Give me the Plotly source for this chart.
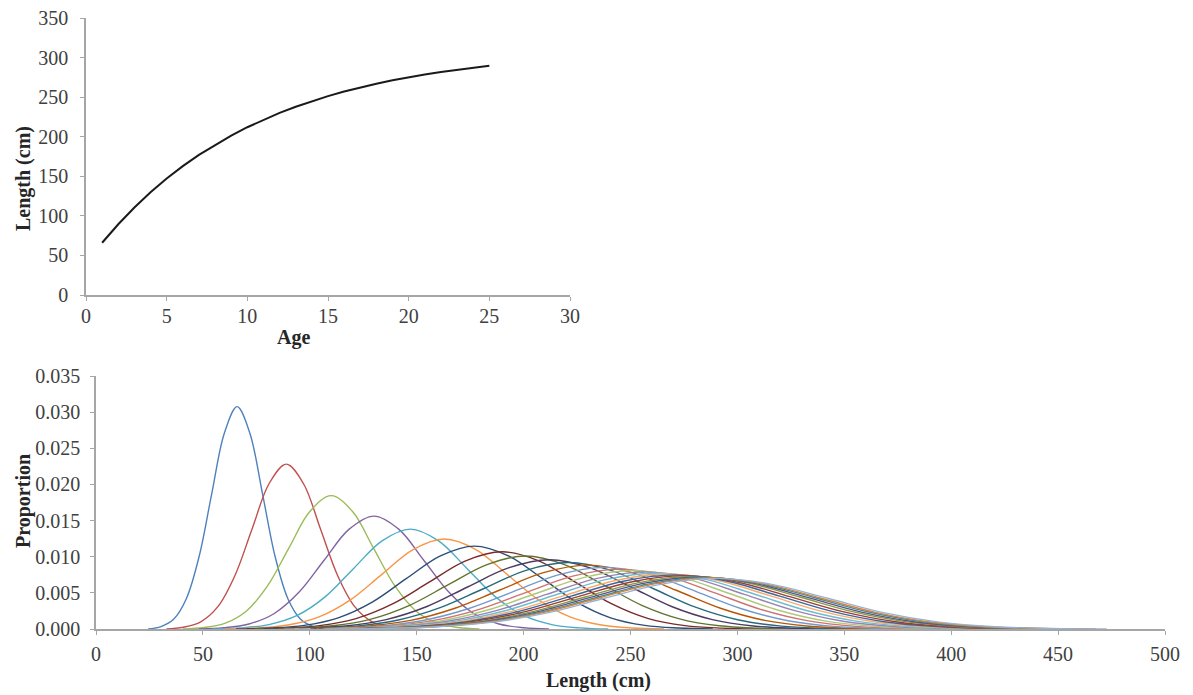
import plotly.graph_objects as go

W, H = 1193, 695

# ---- top panel: length at age ----
ages = [1, 2, 3, 4, 5, 6, 7, 8, 9, 10, 11, 12, 13, 14, 15, 16, 17, 18, 19, 20, 21, 22, 23, 24, 25]
length_at_age = [66.0, 89.4, 110.6, 129.7, 147.1, 162.8, 177.0, 189.8, 201.5, 212.0,
                 221.5, 230.1, 237.9, 244.9, 251.3, 257.1, 262.3, 267.0, 271.3, 275.2,
                 278.7, 281.9, 284.7, 287.3, 289.7]

top_xticks = [0, 5, 10, 15, 20, 25, 30]
top_yticks = [0, 50, 100, 150, 200, 250, 300, 350]

# ---- bottom panel: length distribution for each age ----
dist_lengths = [
    [24.4, 30.4, 36.3, 42.2, 48.2, 54.1, 60.1, 66.0, 71.9, 77.9, 83.8, 89.8, 95.7, 101.6, 107.6],
    [32.9, 40.9, 49.0, 57.0, 65.0, 73.0, 81.0, 89.0, 97.0, 105.0, 113.0, 121.0, 129.1, 137.1, 145.1],
    [40.7, 50.6, 60.5, 70.4, 80.3, 90.2, 100.1, 110.0, 119.9, 129.8, 139.7, 149.6, 159.5, 169.4, 179.3],
    [48.1, 59.8, 71.5, 83.2, 94.9, 106.6, 118.3, 130.0, 141.7, 153.4, 165.1, 176.8, 188.5, 200.2, 211.9],
    [54.4, 67.6, 80.9, 94.1, 107.3, 120.5, 133.8, 147.0, 160.2, 173.5, 186.7, 199.9, 213.2, 226.4, 239.6],
    [60.3, 75.0, 89.7, 104.3, 119.0, 133.7, 148.3, 163.0, 177.7, 192.3, 207.0, 221.7, 236.4, 251.0, 265.7],
    [65.5, 81.4, 97.4, 113.3, 129.2, 145.1, 161.1, 177.0, 192.9, 208.9, 224.8, 240.7, 256.7, 272.6, 288.5],
    [70.3, 87.4, 104.5, 121.6, 138.7, 155.8, 172.9, 190.0, 207.1, 224.2, 241.3, 258.4, 275.5, 292.6, 309.7],
    [74.4, 92.5, 110.6, 128.6, 146.7, 164.8, 182.9, 201.0, 219.1, 237.2, 255.3, 273.4, 291.5, 309.5, 327.6],
    [78.4, 97.5, 116.6, 135.7, 154.8, 173.8, 192.9, 212.0, 231.1, 250.2, 269.2, 288.3, 307.4, 326.5, 345.6],
    [81.8, 101.7, 121.6, 141.4, 161.3, 181.2, 201.1, 221.0, 240.9, 260.8, 280.7, 300.6, 320.5, 340.3, 360.2],
    [85.1, 105.8, 126.5, 147.2, 167.9, 188.6, 209.3, 230.0, 250.7, 271.4, 292.1, 312.8, 333.5, 354.2, 374.9],
    [88.1, 109.5, 130.9, 152.3, 173.7, 195.2, 216.6, 238.0, 259.4, 280.8, 302.3, 323.7, 345.1, 366.5, 387.9],
    [90.7, 112.7, 134.8, 156.8, 178.9, 200.9, 223.0, 245.0, 267.1, 289.1, 311.2, 333.2, 355.3, 377.3, 399.4],
    [92.9, 115.5, 138.1, 160.6, 183.2, 205.8, 228.4, 251.0, 273.6, 296.2, 318.8, 341.4, 364.0, 386.5, 409.1],
    [95.1, 118.2, 141.4, 164.5, 187.6, 210.7, 233.9, 257.0, 280.1, 303.3, 326.4, 349.5, 372.7, 395.8, 418.9],
    [96.9, 120.5, 144.1, 167.7, 191.3, 214.8, 238.4, 262.0, 285.6, 309.2, 332.7, 356.3, 379.9, 403.5, 427.1],
    [98.8, 122.8, 146.9, 170.9, 194.9, 218.9, 243.0, 267.0, 291.0, 315.1, 339.1, 363.1, 387.2, 411.2, 435.2],
    [100.3, 124.7, 149.1, 173.4, 197.8, 222.2, 246.6, 271.0, 295.4, 319.8, 344.2, 368.6, 393.0, 417.3, 441.7],
    [101.8, 126.5, 151.3, 176.0, 200.8, 225.5, 250.3, 275.0, 299.8, 324.5, 349.3, 374.0, 398.8, 423.5, 448.3],
    [103.2, 128.3, 153.5, 178.6, 203.7, 228.8, 253.9, 279.0, 304.1, 329.2, 354.3, 379.4, 404.6, 429.7, 454.8],
    [104.3, 129.7, 155.1, 180.5, 205.9, 231.2, 256.6, 282.0, 307.4, 332.8, 358.1, 383.5, 408.9, 434.3, 459.7],
    [105.5, 131.1, 156.8, 182.4, 208.1, 233.7, 259.4, 285.0, 310.7, 336.3, 362.0, 387.6, 413.3, 438.9, 464.6],
    [106.2, 132.0, 157.9, 183.7, 209.5, 235.3, 261.2, 287.0, 312.8, 338.7, 364.5, 390.3, 416.2, 442.0, 467.8],
    [107.3, 133.4, 159.5, 185.6, 211.7, 237.8, 263.9, 290.0, 316.1, 342.2, 368.3, 394.4, 420.5, 446.6, 472.7],
]
dist_props = [
    [0, 0.00034, 0.00135, 0.00416, 0.00999, 0.01866, 0.02715, 0.03076, 0.02715, 0.01866, 0.00999, 0.00416, 0.00135, 0.00034, 0],
    [0, 0.00025, 0.00100, 0.00309, 0.00741, 0.01383, 0.02013, 0.02281, 0.02013, 0.01383, 0.00741, 0.00309, 0.00100, 0.00025, 0],
    [0, 0.00020, 0.00081, 0.00250, 0.00599, 0.01119, 0.01628, 0.01845, 0.01628, 0.01119, 0.00599, 0.00250, 0.00081, 0.00020, 0],
    [0, 0.00017, 0.00069, 0.00211, 0.00507, 0.00947, 0.01378, 0.01562, 0.01378, 0.00947, 0.00507, 0.00211, 0.00069, 0.00017, 0],
    [0, 0.00015, 0.00061, 0.00187, 0.00448, 0.00838, 0.01219, 0.01381, 0.01219, 0.00838, 0.00448, 0.00187, 0.00061, 0.00015, 0],
    [0, 0.00014, 0.00055, 0.00168, 0.00404, 0.00755, 0.01099, 0.01245, 0.01099, 0.00755, 0.00404, 0.00168, 0.00055, 0.00014, 0],
    [0, 0.00013, 0.00050, 0.00155, 0.00372, 0.00696, 0.01012, 0.01147, 0.01012, 0.00696, 0.00372, 0.00155, 0.00050, 0.00013, 0],
    [0, 0.00012, 0.00047, 0.00144, 0.00347, 0.00648, 0.00943, 0.01068, 0.00943, 0.00648, 0.00347, 0.00144, 0.00047, 0.00012, 0],
    [0, 0.00011, 0.00044, 0.00137, 0.00328, 0.00613, 0.00891, 0.01010, 0.00891, 0.00613, 0.00328, 0.00137, 0.00044, 0.00011, 0],
    [0, 0.00011, 0.00042, 0.00130, 0.00311, 0.00581, 0.00845, 0.00958, 0.00845, 0.00581, 0.00311, 0.00130, 0.00042, 0.00011, 0],
    [0, 0.00010, 0.00040, 0.00124, 0.00298, 0.00557, 0.00811, 0.00919, 0.00811, 0.00557, 0.00298, 0.00124, 0.00040, 0.00010, 0],
    [0, 0.00010, 0.00039, 0.00119, 0.00287, 0.00536, 0.00779, 0.00883, 0.00779, 0.00536, 0.00287, 0.00119, 0.00039, 0.00010, 0],
    [0, 0.00009, 0.00037, 0.00115, 0.00277, 0.00517, 0.00753, 0.00853, 0.00753, 0.00517, 0.00277, 0.00115, 0.00037, 0.00009, 0],
    [0, 0.00009, 0.00036, 0.00112, 0.00269, 0.00503, 0.00732, 0.00829, 0.00732, 0.00503, 0.00269, 0.00112, 0.00036, 0.00009, 0],
    [0, 0.00009, 0.00036, 0.00109, 0.00263, 0.00491, 0.00714, 0.00809, 0.00714, 0.00491, 0.00263, 0.00109, 0.00036, 0.00009, 0],
    [0, 0.00009, 0.00035, 0.00107, 0.00257, 0.00479, 0.00697, 0.00790, 0.00697, 0.00479, 0.00257, 0.00107, 0.00035, 0.00009, 0],
    [0, 0.00009, 0.00034, 0.00105, 0.00252, 0.00470, 0.00684, 0.00775, 0.00684, 0.00470, 0.00252, 0.00105, 0.00034, 0.00009, 0],
    [0, 0.00008, 0.00033, 0.00103, 0.00247, 0.00461, 0.00671, 0.00760, 0.00671, 0.00461, 0.00247, 0.00103, 0.00033, 0.00008, 0],
    [0, 0.00008, 0.00033, 0.00101, 0.00243, 0.00454, 0.00661, 0.00749, 0.00661, 0.00454, 0.00243, 0.00101, 0.00033, 0.00008, 0],
    [0, 0.00008, 0.00032, 0.00100, 0.00240, 0.00448, 0.00651, 0.00738, 0.00651, 0.00448, 0.00240, 0.00100, 0.00032, 0.00008, 0],
    [0, 0.00008, 0.00032, 0.00098, 0.00236, 0.00442, 0.00642, 0.00728, 0.00642, 0.00442, 0.00236, 0.00098, 0.00032, 0.00008, 0],
    [0, 0.00008, 0.00032, 0.00097, 0.00234, 0.00437, 0.00635, 0.00720, 0.00635, 0.00437, 0.00234, 0.00097, 0.00032, 0.00008, 0],
    [0, 0.00008, 0.00031, 0.00096, 0.00231, 0.00432, 0.00628, 0.00712, 0.00628, 0.00432, 0.00231, 0.00096, 0.00031, 0.00008, 0],
    [0, 0.00008, 0.00031, 0.00096, 0.00230, 0.00429, 0.00624, 0.00707, 0.00624, 0.00429, 0.00230, 0.00096, 0.00031, 0.00008, 0],
    [0, 0.00008, 0.00031, 0.00095, 0.00227, 0.00425, 0.00618, 0.00700, 0.00618, 0.00425, 0.00227, 0.00095, 0.00031, 0.00008, 0],
]
bottom_xticks = [0, 50, 100, 150, 200, 250, 300, 350, 400, 450, 500]
bottom_yticks = [0.000, 0.005, 0.010, 0.015, 0.020, 0.025, 0.030, 0.035]

series_colors = ["#4F81BD", "#C0504D", "#9BBB59", "#8064A2", "#4BACC6", "#F79646",
                 "#2C4D75", "#772C2A", "#5F7530", "#4D3B62", "#276A7C", "#B65708",
                 "#729ACA", "#CD7371", "#AFC97A", "#9983B5", "#6FBDD1", "#F9AB6B",
                 "#3A679C", "#9F3B38", "#7E9D40", "#664F83", "#358EA6", "#E0822E",
                 "#95B3D7"]

FONT = "Liberation Serif, Times New Roman, serif"
TICKCOL = "#404040"
TITLECOL = "#262626"
AXCOL = "#a6a6a6"

fig = go.Figure()

fig.add_trace(go.Scatter(x=ages, y=length_at_age, mode="lines",
                         line=dict(color="#1a1a1a", width=2),
                         xaxis="x", yaxis="y", showlegend=False))

for i in range(len(dist_lengths)):
    fig.add_trace(go.Scatter(x=dist_lengths[i], y=dist_props[i], mode="lines",
                             line=dict(color=series_colors[i % len(series_colors)],
                                       width=1.4, shape="spline", smoothing=1.0),
                             xaxis="x2", yaxis="y2", showlegend=False,
                             name="Age %d" % ages[i]))


def px_x(p):
    return p / W


def px_y(p):
    return 1 - p / H


axis_common = dict(showline=True, linecolor=AXCOL, linewidth=1.5, showgrid=False,
                   zeroline=False, ticks="outside", tickcolor=AXCOL, ticklen=4,
                   tickwidth=1.2, automargin=False,
                   tickfont=dict(family=FONT, size=20, color=TICKCOL))


def title(text, x, y, angle=0):
    return dict(text="<b>%s</b>" % text, x=px_x(x), y=px_y(y), xref="paper", yref="paper",
                xanchor="center", yanchor="middle", showarrow=False, textangle=angle,
                font=dict(family=FONT, size=20, color=TITLECOL))


fig.update_layout(
    template="none",
    width=W, height=H,
    margin=dict(l=0, r=0, t=0, b=0, pad=0, autoexpand=False),
    paper_bgcolor="white", plot_bgcolor="white",
    xaxis=dict(domain=[px_x(86), px_x(570)], range=[0, 30], tickvals=top_xticks,
               anchor="y", ticklabelstandoff=-2, **axis_common),
    yaxis=dict(domain=[px_y(295), px_y(18)], range=[0, 350], tickvals=top_yticks,
               anchor="x", ticklabelstandoff=8, **axis_common),
    xaxis2=dict(domain=[px_x(96), px_x(1165)], range=[0, 500], tickvals=bottom_xticks,
                anchor="y2", ticklabelstandoff=2, **axis_common),
    yaxis2=dict(domain=[px_y(629), px_y(376)], range=[0, 0.035], tickvals=bottom_yticks,
                tickformat=".3f", anchor="x2", ticklabelstandoff=6, **axis_common),
    annotations=[
        title("Age", 293, 337),
        title("Length (cm)", 23, 179, -90),
        title("Length (cm)", 598, 680),
        title("Proportion", 23, 501, -90),
    ],
)

fig.write_html("out.html", config={"displayModeBar": False},
               post_script="document.body.style.margin='0px';")
